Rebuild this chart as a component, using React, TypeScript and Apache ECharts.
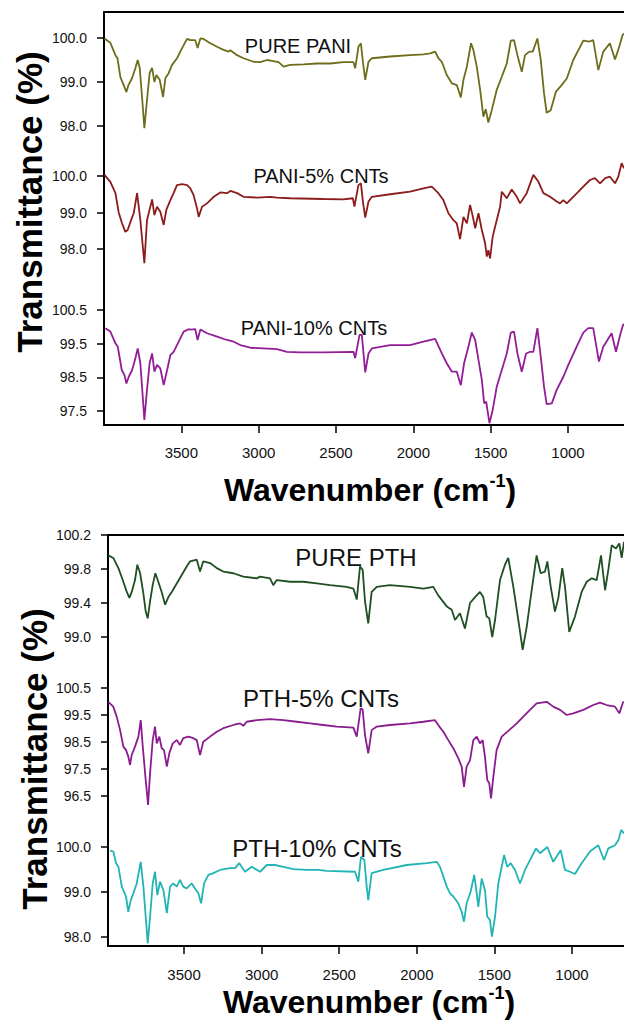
import React, { useEffect, useRef } from "react";
import * as echarts from "echarts";

const FONT = '"Liberation Sans", Arial, Helvetica, sans-serif';

// Tick values
const WN_TICKS = [1000, 1500, 2000, 2500, 3000, 3500];
const T_PANI_PURE = [98.0, 99.0, 100.0];
const T_PANI_5 = [98.0, 99.0, 100.0];
const T_PANI_10 = [97.5, 98.5, 99.5, 100.5];
const T_PTH_PURE = [99.0, 99.4, 99.8, 100.2];
const T_PTH_5 = [96.5, 97.5, 98.5, 99.5, 100.5];
const T_PTH_10 = [98.0, 99.0, 100.0];

const NAMES_TOP = ["PURE PANI", "PANI-5% CNTs", "PANI-10% CNTs"];
const NAMES_BOTTOM = ["PURE PTH", "PTH-5% CNTs", "PTH-10% CNTs"];

// [wavenumber (cm-1), transmittance (%)]
const PURE_PANI = [
  [3997, 99.99], [3959, 99.89], [3926, 99.61], [3913, 99.54], [3894, 99.11], [3873, 98.93],
  [3855, 98.77], [3842, 98.93], [3818, 99.09], [3797, 99.32], [3782, 99.5], [3769, 99.32],
  [3754, 98.66], [3739, 97.95], [3722, 98.59], [3705, 99.2], [3689, 99.32], [3674, 99.0],
  [3661, 99.16], [3640, 99.05], [3618, 98.66], [3603, 99.09], [3582, 99.2], [3560, 99.39],
  [3528, 99.54], [3495, 99.77], [3463, 99.98], [3442, 99.95], [3410, 99.95], [3395, 99.77],
  [3377, 99.99], [3356, 99.98], [3313, 99.88], [3269, 99.8], [3227, 99.73], [3194, 99.69],
  [3183, 99.72], [3140, 99.61], [3098, 99.54], [3033, 99.46], [2990, 99.45], [2946, 99.5],
  [2914, 99.48], [2871, 99.45], [2839, 99.35], [2796, 99.39], [2710, 99.4], [2623, 99.42],
  [2537, 99.42], [2452, 99.45], [2387, 99.45], [2376, 99.31], [2355, 99.8], [2339, 99.88],
  [2326, 99.46], [2311, 99.05], [2290, 99.46], [2268, 99.54], [2150, 99.58], [2021, 99.61],
  [1935, 99.63], [1891, 99.65], [1859, 99.69], [1838, 99.54], [1816, 99.46], [1784, 99.16],
  [1751, 98.97], [1719, 98.93], [1693, 98.65], [1676, 99.05], [1654, 99.35], [1627, 99.88],
  [1612, 99.73], [1590, 99.35], [1568, 98.82], [1547, 98.21], [1532, 98.38], [1515, 98.08],
  [1493, 98.36], [1461, 98.82], [1428, 99.12], [1396, 99.42], [1370, 99.94], [1349, 99.95],
  [1327, 99.61], [1299, 99.23], [1278, 99.61], [1250, 99.69], [1228, 99.69], [1198, 99.99],
  [1176, 99.5], [1155, 98.74], [1138, 98.3], [1112, 98.36], [1078, 98.78], [1041, 98.93],
  [1008, 99.08], [966, 99.5], [901, 99.94], [862, 99.92], [837, 99.95], [804, 99.27],
  [772, 99.69], [729, 99.88], [696, 99.51], [669, 99.8], [647, 100.07], [638, 100.1],
];

const PANI_5 = [
  [3997, 100.03], [3959, 99.84], [3926, 99.53], [3905, 99.0], [3883, 98.7], [3862, 98.47],
  [3847, 98.52], [3825, 98.79], [3808, 98.98], [3786, 99.53], [3765, 98.79], [3739, 97.61],
  [3722, 98.79], [3689, 99.36], [3674, 98.93], [3657, 99.16], [3636, 99.02], [3614, 98.66],
  [3597, 99.07], [3571, 99.34], [3550, 99.53], [3528, 99.75], [3495, 99.78], [3463, 99.75],
  [3442, 99.66], [3421, 99.48], [3399, 99.12], [3388, 98.88], [3366, 99.16], [3334, 99.25],
  [3291, 99.43], [3248, 99.55], [3205, 99.53], [3183, 99.59], [3140, 99.53], [3098, 99.43],
  [3011, 99.41], [2925, 99.43], [2882, 99.41], [2796, 99.39], [2581, 99.37], [2452, 99.36],
  [2391, 99.39], [2381, 99.16], [2355, 99.75], [2339, 99.8], [2326, 99.3], [2311, 98.86],
  [2290, 99.3], [2268, 99.43], [2150, 99.5], [2021, 99.57], [1935, 99.66], [1881, 99.71],
  [1838, 99.53], [1806, 99.34], [1773, 98.98], [1741, 98.79], [1719, 98.7], [1698, 98.27],
  [1676, 98.88], [1654, 98.7], [1633, 99.21], [1615, 98.88], [1600, 98.57], [1579, 98.98],
  [1557, 98.52], [1536, 98.16], [1525, 97.79], [1515, 97.97], [1504, 97.74], [1487, 98.34],
  [1461, 98.79], [1439, 99.16], [1428, 99.57], [1396, 99.39], [1364, 99.63], [1331, 99.43],
  [1310, 99.25], [1267, 99.53], [1224, 100.03], [1191, 99.84], [1159, 99.53], [1116, 99.43],
  [1073, 99.3], [1052, 99.25], [1030, 99.34], [1008, 99.25], [966, 99.43], [901, 99.71],
  [858, 99.89], [826, 99.94], [793, 99.8], [760, 99.94], [729, 99.98], [696, 99.8],
  [675, 99.98], [653, 100.35], [638, 100.21],
];

const PANI_10 = [
  [3991, 99.96], [3959, 99.86], [3926, 99.51], [3911, 99.41], [3885, 98.72], [3868, 98.57],
  [3855, 98.32], [3840, 98.52], [3818, 98.72], [3797, 99.07], [3782, 99.36], [3765, 98.92],
  [3754, 98.22], [3739, 97.24], [3722, 98.13], [3705, 98.92], [3689, 99.21], [3674, 98.67],
  [3657, 98.87], [3636, 98.77], [3614, 98.27], [3592, 98.72], [3571, 99.16], [3550, 99.26],
  [3517, 99.56], [3485, 99.86], [3453, 99.93], [3442, 99.92], [3410, 99.93], [3395, 99.61],
  [3377, 99.92], [3334, 99.81], [3269, 99.71], [3205, 99.61], [3162, 99.56], [3119, 99.46],
  [3054, 99.38], [2968, 99.36], [2882, 99.34], [2817, 99.26], [2731, 99.24], [2581, 99.24],
  [2387, 99.26], [2376, 99.07], [2348, 99.76], [2333, 99.76], [2322, 99.2], [2311, 98.65],
  [2290, 99.21], [2268, 99.36], [2150, 99.46], [2021, 99.46], [1935, 99.56], [1859, 99.64],
  [1816, 99.21], [1784, 98.92], [1751, 98.67], [1719, 98.67], [1693, 98.27], [1672, 98.92],
  [1644, 99.41], [1622, 99.83], [1600, 99.61], [1579, 99.02], [1557, 98.42], [1542, 97.73],
  [1529, 97.78], [1508, 97.14], [1487, 97.53], [1461, 98.22], [1428, 98.72], [1396, 99.21],
  [1370, 99.83], [1349, 99.86], [1327, 99.21], [1299, 98.67], [1271, 99.21], [1245, 99.26],
  [1224, 99.26], [1198, 99.96], [1176, 99.11], [1155, 98.22], [1138, 97.71], [1105, 97.73],
  [1073, 98.13], [1030, 98.52], [998, 98.87], [944, 99.41], [901, 99.83], [869, 99.96],
  [837, 99.96], [800, 98.97], [772, 99.41], [718, 99.81], [690, 99.26], [660, 99.81],
  [643, 100.08], [638, 100.05],
];

const PURE_PTH = [
  [3988, 99.96], [3956, 99.93], [3923, 99.81], [3895, 99.67], [3869, 99.53], [3852, 99.46],
  [3837, 99.53], [3816, 99.67], [3801, 99.85], [3783, 99.75], [3762, 99.51], [3747, 99.3],
  [3734, 99.22], [3719, 99.42], [3702, 99.61], [3685, 99.75], [3666, 99.65], [3644, 99.53],
  [3622, 99.38], [3601, 99.47], [3579, 99.53], [3547, 99.63], [3515, 99.73], [3483, 99.83],
  [3461, 99.89], [3418, 99.91], [3397, 99.77], [3376, 99.89], [3332, 99.87], [3289, 99.81],
  [3247, 99.77], [3182, 99.75], [3118, 99.71], [3032, 99.69], [3010, 99.71], [2946, 99.69],
  [2925, 99.61], [2903, 99.67], [2817, 99.65], [2731, 99.65], [2645, 99.63], [2559, 99.61],
  [2452, 99.59], [2409, 99.57], [2387, 99.44], [2366, 99.83], [2349, 99.79], [2334, 99.42],
  [2313, 99.16], [2291, 99.53], [2258, 99.59], [2173, 99.61], [2044, 99.59], [1958, 99.57],
  [1894, 99.59], [1862, 99.49], [1807, 99.36], [1775, 99.32], [1754, 99.2], [1722, 99.28],
  [1690, 99.1], [1657, 99.4], [1625, 99.47], [1593, 99.53], [1572, 99.47], [1550, 99.24],
  [1533, 99.22], [1514, 99.0], [1496, 99.2], [1464, 99.67], [1432, 99.85], [1411, 99.93],
  [1378, 99.59], [1346, 99.2], [1318, 98.85], [1292, 99.12], [1260, 99.55], [1228, 99.96],
  [1202, 99.75], [1174, 99.77], [1159, 99.89], [1137, 99.59], [1110, 99.3], [1088, 99.46],
  [1063, 99.81], [1045, 99.59], [1018, 99.06], [981, 99.24], [938, 99.53], [905, 99.65],
  [873, 99.69], [841, 99.67], [813, 99.96], [787, 99.55], [766, 99.79], [744, 100.08],
  [717, 100.04], [695, 100.1], [680, 99.93], [665, 100.12],
];

const PTH_5 = [
  [3988, 99.99], [3956, 99.81], [3934, 99.44], [3912, 98.94], [3891, 98.33], [3874, 98.2],
  [3859, 97.96], [3848, 97.65], [3837, 98.02], [3816, 98.33], [3794, 98.7], [3779, 99.31],
  [3766, 98.33], [3747, 97.09], [3732, 96.17], [3719, 97.34], [3702, 98.57], [3687, 99.07],
  [3676, 98.45], [3659, 98.7], [3644, 98.27], [3629, 98.2], [3611, 97.59], [3595, 98.08],
  [3573, 98.45], [3547, 98.57], [3526, 98.39], [3505, 98.64], [3472, 98.7], [3440, 98.64],
  [3418, 98.57], [3397, 98.02], [3376, 98.51], [3332, 98.7], [3289, 98.88], [3247, 99.01],
  [3182, 99.13], [3139, 99.19], [3118, 99.1], [3096, 99.25], [3032, 99.31], [2946, 99.35],
  [2860, 99.31], [2774, 99.25], [2688, 99.19], [2603, 99.13], [2516, 99.07], [2409, 99.03],
  [2387, 98.7], [2362, 99.75], [2349, 99.7], [2334, 98.76], [2313, 98.08], [2291, 98.94],
  [2258, 99.07], [2173, 99.13], [2044, 99.19], [1958, 99.25], [1883, 99.31], [1855, 99.07],
  [1829, 98.88], [1797, 98.57], [1765, 98.27], [1733, 97.9], [1711, 97.59], [1696, 96.84],
  [1679, 97.59], [1657, 97.83], [1636, 98.57], [1614, 98.7], [1593, 98.45], [1576, 98.57],
  [1561, 97.96], [1546, 97.09], [1533, 96.97], [1522, 96.41], [1507, 97.21], [1486, 98.2],
  [1453, 98.7], [1405, 98.94], [1356, 99.19], [1314, 99.44], [1271, 99.69], [1228, 99.93],
  [1163, 99.99], [1121, 99.81], [1077, 99.69], [1034, 99.5], [992, 99.56], [927, 99.69],
  [863, 99.87], [820, 99.96], [777, 99.87], [723, 99.81], [695, 99.56], [670, 99.99],
  [665, 99.95],
];

const PTH_10 = [
  [3977, 99.92], [3956, 99.9], [3938, 99.64], [3923, 99.56], [3901, 99.12], [3874, 98.9],
  [3859, 98.56], [3843, 98.82], [3827, 98.97], [3805, 99.19], [3779, 99.67], [3762, 99.12],
  [3747, 98.45], [3734, 97.86], [3719, 98.45], [3702, 99.19], [3687, 99.45], [3672, 98.93],
  [3655, 99.23], [3633, 99.04], [3611, 98.53], [3590, 99.12], [3569, 99.19], [3547, 99.12],
  [3526, 99.27], [3505, 99.12], [3483, 99.08], [3450, 99.19], [3429, 99.08], [3408, 98.97],
  [3390, 98.75], [3371, 99.19], [3343, 99.38], [3311, 99.42], [3268, 99.49], [3204, 99.53],
  [3171, 99.53], [3144, 99.64], [3107, 99.45], [3064, 99.56], [3010, 99.45], [2967, 99.6],
  [2914, 99.6], [2860, 99.56], [2796, 99.51], [2709, 99.49], [2635, 99.49], [2581, 99.47],
  [2398, 99.45], [2377, 99.23], [2360, 99.78], [2338, 99.71], [2323, 99.12], [2313, 98.82],
  [2291, 99.42], [2216, 99.49], [2065, 99.6], [1936, 99.64], [1872, 99.67], [1851, 99.56],
  [1807, 99.12], [1786, 98.97], [1765, 98.9], [1733, 98.75], [1711, 98.56], [1696, 98.34],
  [1679, 98.75], [1653, 99.01], [1630, 99.38], [1614, 98.97], [1604, 98.67], [1582, 99.3],
  [1561, 99.04], [1546, 98.45], [1529, 98.38], [1516, 98.01], [1496, 98.45], [1475, 99.19],
  [1453, 99.56], [1438, 99.82], [1417, 99.56], [1395, 99.64], [1367, 99.49], [1335, 99.19],
  [1303, 99.49], [1271, 99.71], [1232, 99.97], [1206, 99.86], [1159, 100.0], [1121, 99.67],
  [1073, 99.93], [1045, 99.49], [1013, 99.45], [981, 99.4], [938, 99.64], [884, 99.9],
  [831, 100.04], [794, 99.71], [766, 99.97], [723, 100.04], [700, 100.16], [683, 100.38],
  [665, 100.3],
];

const AXIS_COLOR = "#000";

function frameX(gridIndex: number, min: number, max: number, margin: number) {
  return {
    type: "value", gridIndex, min, max, inverse: true, position: "bottom",
    axisLine: { show: true, onZero: false, lineStyle: { color: AXIS_COLOR, width: 2 } },
    axisTick: { show: true, customValues: WN_TICKS, length: 8, lineStyle: { color: AXIS_COLOR, width: 1.5 } },
    axisLabel: {
      show: true, customValues: WN_TICKS, margin, fontSize: 15, color: "#111", fontFamily: FONT,
      formatter: (v: number) => String(v),
    },
    splitLine: { show: false },
  };
}
function topBorder(gridIndex: number, min: number, max: number) {
  return {
    type: "value", gridIndex, min, max, inverse: true, position: "top",
    axisLine: { show: true, onZero: false, lineStyle: { color: AXIS_COLOR, width: 2 } },
    axisTick: { show: false }, axisLabel: { show: false }, splitLine: { show: false },
  };
}
function hiddenX(gridIndex: number, min: number, max: number) {
  return { type: "value", gridIndex, min, max, inverse: true, show: false, splitLine: { show: false } };
}
function frameY(gridIndex: number) {
  return {
    type: "value", gridIndex, min: 0, max: 1,
    axisLine: { show: true, onZero: false, lineStyle: { color: AXIS_COLOR, width: 2 } },
    axisTick: { show: false }, axisLabel: { show: false }, splitLine: { show: false },
  };
}
function subY(gridIndex: number, min: number, max: number, ticks: number[]) {
  return {
    type: "value", gridIndex, min, max,
    axisLine: { show: false },
    axisTick: { show: true, customValues: ticks, length: 7, lineStyle: { color: AXIS_COLOR, width: 1.5 } },
    axisLabel: {
      show: true, customValues: ticks, margin: 17, fontSize: 14, color: "#111", fontFamily: FONT,
      formatter: (v: number) => v.toFixed(1),
    },
    splitLine: { show: false },
  };
}

function line(name: string, data: number[][], color: string, axis: number) {
  return {
    type: "line", name, data, xAxisIndex: axis, yAxisIndex: axis,
    showSymbol: false, symbol: "none", silent: true,
    lineStyle: { color, width: 1.8 }, itemStyle: { color },
  };
}

function label(text: string, x: number, y: number, size: number) {
  return {
    type: "text", x, y, z: 10,
    style: {
      text, x: 0, y: 0, fontSize: size, fontFamily: FONT, fill: "#111",
      align: "center", verticalAlign: "middle", textAlign: "center", textVerticalAlign: "middle",
    },
  };
}

function yTitle(x: number, y: number) {
  return {
    type: "text", x, y, rotation: Math.PI / 2, z: 10,
    style: {
      text: "Transmittance (%)", x: 0, y: 0, fontSize: 35, fontWeight: "bold", fontFamily: FONT, fill: "#000",
      align: "center", verticalAlign: "middle", textAlign: "center", textVerticalAlign: "middle",
    },
  };
}

function xTitle(x: number, y: number) {
  return {
    type: "text", x, y, z: 10,
    style: {
      text: "{a|Wavenumber (cm}{s|-1}{a|)}", x: 0, y: 0, fill: "#000",
      align: "center", verticalAlign: "middle", textAlign: "center", textVerticalAlign: "middle",
      rich: {
        a: { fontSize: 32, fontWeight: "bold", fontFamily: FONT, fill: "#000", lineHeight: 36 },
        s: { fontSize: 18, fontWeight: "bold", fontFamily: FONT, fill: "#000", verticalAlign: "top", lineHeight: 20 },
      },
    },
  };
}

export default function App() {
  const ref = useRef<HTMLDivElement>(null);
  useEffect(() => {
    if (!ref.current) return;
    const chart = echarts.init(ref.current, null, { renderer: "svg", width: 624, height: 1024 });
    const TMIN = 638, TMAX = 4000, BMIN = 665, BMAX = 3990;
    const option: any = {
      animation: false,
      backgroundColor: "#fff",
      textStyle: { fontFamily: FONT },
      grid: [
        { left: 104, top: 12, width: 520, height: 413 },
        { left: 104, top: 16, width: 520, height: 127.6 },
        { left: 104, top: 154.1, width: 520, height: 120.45 },
        { left: 104, top: 303.26, width: 520, height: 124.69 },
        { left: 108, top: 535, width: 516, height: 411 },
        { left: 108, top: 535, width: 516, height: 127.5 },
        { left: 108, top: 685.3, width: 516, height: 124.2 },
        { left: 108, top: 824.5, width: 516, height: 121.5 },
      ],
      xAxis: [
        frameX(0, TMIN, TMAX, 20),
        hiddenX(1, TMIN, TMAX),
        hiddenX(2, TMIN, TMAX),
        hiddenX(3, TMIN, TMAX),
        frameX(4, BMIN, BMAX, 21),
        hiddenX(5, BMIN, BMAX),
        hiddenX(6, BMIN, BMAX),
        hiddenX(7, BMIN, BMAX),
        topBorder(0, TMIN, TMAX),
        topBorder(4, BMIN, BMAX),
      ],
      yAxis: [
        frameY(0),
        subY(1, 97.6, 100.5, T_PANI_PURE),
        subY(2, 97.3, 100.6, T_PANI_5),
        subY(3, 97.0, 100.7, T_PANI_10),
        frameY(4),
        subY(5, 98.7, 100.2, T_PTH_PURE),
        subY(6, 96.0, 100.6, T_PTH_5),
        subY(7, 97.8, 100.5, T_PTH_10),
      ],
      series: [
        line(NAMES_TOP[0], PURE_PANI, "#6e6d1c", 1),
        line(NAMES_TOP[1], PANI_5, "#8c1c1c", 2),
        line(NAMES_TOP[2], PANI_10, "#931d96", 3),
        line(NAMES_BOTTOM[0], PURE_PTH, "#1f4f22", 5),
        line(NAMES_BOTTOM[1], PTH_5, "#8a1c8e", 6),
        line(NAMES_BOTTOM[2], PTH_10, "#22b4b4", 7),
      ],
      graphic: [
        label(NAMES_TOP[0], 298, 46, 20),
        label(NAMES_TOP[1], 321, 176, 20),
        label(NAMES_TOP[2], 314, 328, 20),
        label(NAMES_BOTTOM[0], 356, 557, 24),
        label(NAMES_BOTTOM[1], 321, 698, 24),
        label(NAMES_BOTTOM[2], 317, 848, 24),
        yTitle(29, 202),
        yTitle(34, 759),
        xTitle(370, 490),
        xTitle(369, 1002),
      ],
    };
    chart.setOption(option);
    return () => chart.dispose();
  }, []);
  return <div ref={ref} style={{ position: "absolute", left: 0, top: 0, width: 624, height: 1024 }} />;
}
